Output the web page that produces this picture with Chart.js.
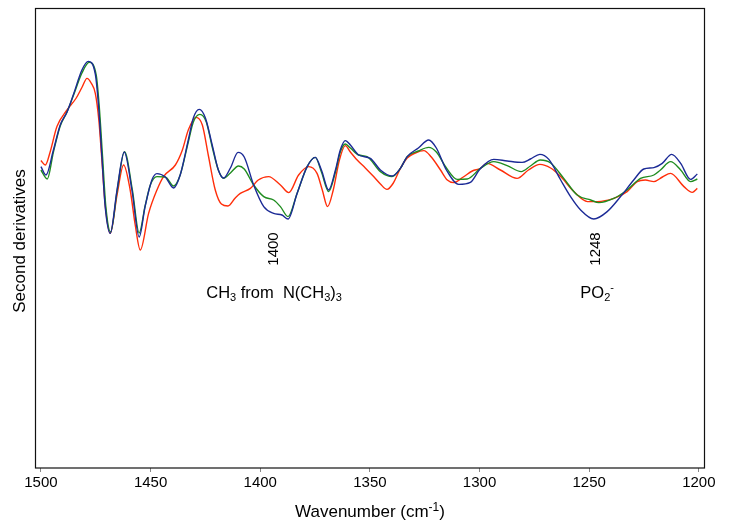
<!DOCTYPE html>
<html>
<head>
<meta charset="utf-8">
<script src="https://cdn.jsdelivr.net/npm/chart.js@4.4.0/dist/chart.umd.min.js"></script>
<style>
  html, body { margin: 0; padding: 0; background: #fff; }
  #wrap { width: 729px; height: 522px; }
</style>
</head>
<body>
<div id="wrap"><canvas id="spectrum"></canvas></div>
<script>
// second derivative spectra (arbitrary units)
const blueWn = [
  1500, 1497.7, 1494.3, 1491.2, 1488.1, 1485.1, 1481.3, 1478.4, 1475.2, 1473.7,
  1472.2, 1470.7, 1468.4, 1465.3, 1462.0, 1458.5, 1455.2, 1452.5, 1449.4, 1447.1,
  1443.3, 1439.5, 1436.5, 1432.8, 1430.5, 1427.8, 1425.0, 1421.9, 1419.1, 1416.7,
  1413.6, 1410.1, 1407.3, 1403.0, 1398.4, 1393.9, 1390.1, 1387.3, 1383.2, 1378.6,
  1374.9, 1372.1, 1368.8, 1365.7, 1363.5, 1361.2, 1358.9, 1355.1, 1349.8, 1345.2,
  1339.9, 1336.1, 1333.0, 1327.9, 1323.2, 1319.7, 1315.1, 1309.5, 1304.2, 1299.6,
  1293.5, 1287.4, 1280.6, 1276.8, 1272.5, 1268.4, 1263.0, 1258.5, 1253.9, 1247.9,
  1241.8, 1235.7, 1229.7, 1225.1, 1220.5, 1216.7, 1212.4, 1208.3, 1203.8, 1200.7
];
const blueVal = [
  1.07, 0.65, 1.9, 3.15, 3.8, 4.7, 5.9, 6.33, 5.7, 4.07,
  1.57, -0.93, -2.27, -0.1, 1.8, -0.1, -2.45, -0.93, 0.4, 0.72,
  0.55, 0.0, 0.65, 2.4, 3.5, 3.93, 3.5, 2.15, 0.9, 0.5,
  1.0, 1.78, 1.55, 0.15, -0.93, -1.27, -1.35, -1.55, -0.27, 1.07,
  1.53, 0.9, -0.1, 0.9, 1.9, 2.37, 2.15, 1.65, 1.48, 0.9,
  0.6, 0.98, 1.57, 2.0, 2.4, 2.0, 0.9, 0.18, 0.28, 0.98,
  1.43, 1.35, 1.28, 1.45, 1.68, 1.43, 0.4, -0.43, -1.1, -1.55,
  -1.18, -0.43, 0.4, 0.95, 1.02, 1.23, 1.68, 1.23, 0.43, 0.7
];

const greenWn = [
  1500, 1497.1, 1494.3, 1491.2, 1488.1, 1485.1, 1481.3, 1478.0, 1474.8, 1473.4,
  1471.9, 1470.4, 1468.2, 1465.2, 1461.9, 1458.3, 1455.2, 1452.5, 1450.1, 1447.1,
  1443.3, 1439.5, 1436.5, 1432.8, 1430.5, 1427.5, 1424.6, 1421.9, 1419.1, 1416.7,
  1413.6, 1409.9, 1407.3, 1403.0, 1398.4, 1393.9, 1390.8, 1387.3, 1383.2, 1378.6,
  1374.9, 1372.1, 1368.8, 1365.7, 1363.5, 1361.2, 1358.9, 1355.1, 1351.3, 1345.2,
  1339.9, 1336.1, 1333.0, 1327.9, 1323.2, 1319.7, 1315.1, 1310.2, 1305.6, 1299.6,
  1293.5, 1287.4, 1281.0, 1276.8, 1272.3, 1267.6, 1261.6, 1255.5, 1249.3, 1245.6,
  1238.8, 1232.7, 1226.6, 1220.5, 1217.5, 1212.9, 1208.3, 1203.8, 1200.7
];
const greenVal = [
  0.9, 0.45, 1.8, 3.1, 3.8, 4.65, 5.75, 6.28, 5.65, 4.07,
  1.57, -0.93, -2.2, -0.1, 1.82, -0.1, -2.25, -0.9, 0.15, 0.57,
  0.55, 0.1, 0.65, 2.3, 3.3, 3.68, 3.3, 2.05, 0.9, 0.48,
  0.75, 1.1, 0.95, 0.15, -0.43, -0.6, -0.93, -1.43, -0.27, 1.07,
  1.53, 0.8, -0.18, 0.8, 1.8, 2.2, 2.0, 1.65, 1.57, 0.82,
  0.57, 0.98, 1.57, 1.85, 2.03, 1.8, 1.0, 0.43, 0.45, 0.98,
  1.32, 1.12, 0.82, 1.1, 1.4, 1.25, 0.48, -0.35, -0.6, -0.73,
  -0.52, -0.1, 0.48, 0.65, 0.9, 1.32, 0.9, 0.32, 0.45
];

const redWn = [
  1500, 1498.0, 1495.8, 1492.7, 1488.1, 1483.9, 1481.2, 1479.0, 1477.1, 1475.2,
  1473.6, 1472.2, 1470.7, 1468.4, 1465.3, 1462.3, 1459.3, 1457.0, 1454.7, 1450.9,
  1447.1, 1444.1, 1438.7, 1435.5, 1432.8, 1429.3, 1426.4, 1423.7, 1420.5, 1417.7,
  1414.7, 1411.4, 1409.1, 1404.5, 1400.9, 1396.2, 1390.8, 1387.0, 1382.5, 1377.9,
  1374.1, 1371.7, 1369.3, 1366.7, 1363.9, 1361.2, 1358.9, 1355.8, 1352.1, 1348.3,
  1345.2, 1342.2, 1339.3, 1336.1, 1333.0, 1329.3, 1325.4, 1322.0, 1317.8, 1314.7,
  1311.8, 1307.4, 1303.3, 1299.6, 1296.6, 1290.5, 1282.9, 1277.7, 1272.5, 1267.6,
  1263.0, 1257.0, 1250.8, 1246.3, 1238.8, 1232.7, 1228.1, 1224.4, 1220.5, 1216.6,
  1212.9, 1206.8, 1203.0, 1200.7
];
const redVal = [
  1.37, 1.15, 1.8, 3.07, 3.9, 4.5, 5.05, 5.48, 5.25, 4.73,
  3.4, 1.4, -0.85, -2.27, -0.35, 1.15, -0.1, -1.85, -3.1, -1.27,
  -0.1, 0.57, 1.15, 1.9, 2.9, 3.53, 3.15, 1.65, -0.1, -0.8,
  -0.9, -0.5, -0.27, -0.02, 0.4, 0.57, 0.15, -0.23, 0.65, 1.07,
  0.73, -0.1, -0.93, -0.1, 1.4, 2.12, 1.8, 1.4, 1.0, 0.57,
  0.2, -0.07, 0.25, 0.98, 1.5, 1.75, 1.87, 1.55, 0.9, 0.4,
  0.27, 0.55, 0.85, 0.98, 1.23, 0.9, 0.48, 0.9, 1.18, 1.0,
  0.57, -0.18, -0.68, -0.68, -0.52, -0.18, 0.32, 0.4, 0.32, 0.55,
  0.73, 0.07, -0.22, -0.02
];

const xTicks = [1500, 1450, 1400, 1350, 1300, 1250, 1200];
const bandLabels = ['1400', '1248'];
const bandPos = [1394.6, 1247.9];

const FONT = '"Liberation Sans", Arial, sans-serif';

const toPoints = (xs, ys) => xs.map((x, i) => ({ x: x, y: ys[i] }));

function line(label, xs, ys, color) {
  return {
    label: label,
    data: toPoints(xs, ys),
    borderColor: color,
    borderWidth: 1.4,
    pointRadius: 0,
    fill: false,
    cubicInterpolationMode: 'monotone'
  };
}

// text with sub/superscripts, parts = [[text, 'n'|'sub'|'sup'], ...]
function richText(ctx, parts, x, y, size, align) {
  const fontFor = m => (m === 'n' ? size : Math.round(size * 0.68)) + 'px ' + FONT;
  let total = 0;
  parts.forEach(p => { ctx.font = fontFor(p[1]); total += ctx.measureText(p[0]).width; });
  let cx = align === 'center' ? x - total / 2 : x;
  ctx.textAlign = 'left';
  ctx.textBaseline = 'alphabetic';
  parts.forEach(p => {
    ctx.font = fontFor(p[1]);
    const dy = p[1] === 'sub' ? size * 0.22 : (p[1] === 'sup' ? -size * 0.38 : 0);
    ctx.fillText(p[0], cx, y + dy);
    cx += ctx.measureText(p[0]).width;
  });
}

const decorations = {
  id: 'decorations',
  afterDraw(chart) {
    const { ctx, chartArea: a, scales: { x, y } } = chart;
    ctx.save();
    // frame
    ctx.strokeStyle = '#111';
    ctx.lineWidth = 1.2;
    ctx.strokeRect(a.left + 0.5, a.top + 0.5, a.right - a.left - 1, a.bottom - a.top - 0.5);

    ctx.fillStyle = '#000';
    // band labels, rotated
    bandLabels.forEach((t, i) => {
      ctx.save();
      ctx.translate(x.getPixelForValue(bandPos[i]) + 6, y.getPixelForValue(-3.05));
      ctx.rotate(-Math.PI / 2);
      ctx.font = '15px ' + FONT;
      ctx.textAlign = 'center';
      ctx.textBaseline = 'alphabetic';
      ctx.fillText(t, 0, 0);
      ctx.restore();
    });

    const baseY = y.getPixelForValue(-5.48);
    richText(ctx, [['CH', 'n'], ['3', 'sub'], [' from  N(CH', 'n'], ['3', 'sub'], [')', 'n'], ['3', 'sub']],
      x.getPixelForValue(bandPos[0]) + 2, baseY, 16.5, 'center');
    richText(ctx, [['PO', 'n'], ['2', 'sub'], ['-', 'sup']],
      x.getPixelForValue(1246.4), baseY, 16.5, 'center');

    // axis titles
    richText(ctx, [['Wavenumber (cm', 'n'], ['-1', 'sup'], [')', 'n']], (a.left + a.right) / 2, 517, 17, 'center');
    ctx.save();
    ctx.translate(25, (a.top + a.bottom) / 2 + 3);
    ctx.rotate(-Math.PI / 2);
    ctx.font = '17px ' + FONT;
    ctx.textAlign = 'center';
    ctx.textBaseline = 'alphabetic';
    ctx.fillText('Second derivatives', 0, 0);
    ctx.restore();
    ctx.restore();
  }
};

new Chart(document.getElementById('spectrum'), {
  type: 'line',
  data: {
    datasets: [
      line('Blue', blueWn, blueVal, '#1b2a96'),
      line('Green', greenWn, greenVal, '#1f8c1f'),
      line('Red', redWn, redVal, '#ff2e0a')
    ]
  },
  options: {
    responsive: true,
    maintainAspectRatio: false,
    animation: false,
    layout: { padding: { left: 35, right: 24, top: 8, bottom: 0 } },
    plugins: { legend: { display: false }, tooltip: { enabled: false } },
    scales: {
      x: {
        type: 'linear',
        reverse: true,
        min: 1197.2,
        max: 1502.7,
        afterBuildTicks: s => { s.ticks = xTicks.map(v => ({ value: v })); },
        afterFit: s => { s.height = 54; },
        grid: { display: true, drawOnChartArea: false, drawTicks: true, tickLength: 4, color: '#888' },
        border: { display: false },
        ticks: {
          color: '#000',
          font: { size: 15, family: FONT },
          padding: 2,
          maxRotation: 0,
          callback: v => String(v)
        }
      },
      y: {
        display: false,
        min: -14,
        max: 9
      }
    }
  },
  plugins: [decorations]
});
</script>
</body>
</html>
